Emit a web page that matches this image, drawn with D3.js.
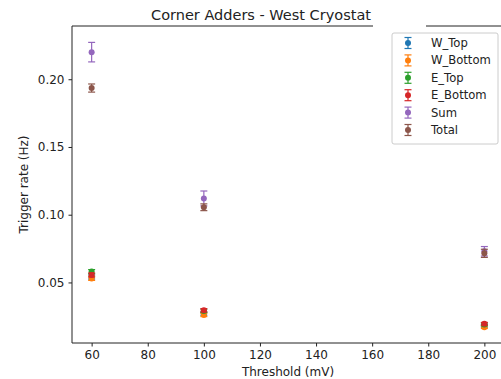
<!DOCTYPE html>
<html>
<head>
<meta charset="utf-8">
<script src="https://cdn.jsdelivr.net/npm/d3@7"></script>
<style>
  body { margin: 0; background: #fff; }
  text { font-family: "DejaVu Sans", sans-serif; fill: #222; }
</style>
</head>
<body>
<div id="chart"></div>
<script>
// thresholds (mV)
var thresholds = [60, 100, 200];

// series names and colours (matplotlib tab10)
var seriesNames = ["W_Top", "W_Bottom", "E_Top", "E_Bottom", "Sum", "Total"];
var seriesColors = ["#1f77b4", "#ff7f0e", "#2ca02c", "#d62728", "#9467bd", "#8c564b"];

// trigger rates (Hz) per series, one value per threshold
var wTop = [0.054, 0.027, 0.018];
var wBottom = [0.053, 0.026, 0.017];
var eTop = [0.058, 0.029, 0.019];
var eBottom = [0.0555, 0.0295, 0.0195];
var sum = [0.220, 0.112, 0.073];
var total = [0.1935, 0.1055, 0.0715];

// error bar half-widths
var wTopErr = [0.0015, 0.0012, 0.001];
var wBottomErr = [0.0015, 0.0012, 0.001];
var eTopErr = [0.0015, 0.0012, 0.001];
var eBottomErr = [0.0015, 0.0012, 0.001];
var sumErr = [0.0072, 0.0055, 0.0035];
var totalErr = [0.003, 0.0025, 0.003];

// tick values
var yTicks = [0.05, 0.10, 0.15, 0.20];
var xTicks = [60, 80, 100, 120, 140, 160, 180, 200];

var allValues = [wTop, wBottom, eTop, eBottom, sum, total];
var allErrs = [wTopErr, wBottomErr, eTopErr, eBottomErr, sumErr, totalErr];

var W = 501, H = 379;
var plotL = 72, plotR = 504, plotT = 26, plotB = 343;

var svg = d3.select("#chart")
    .append("svg")
    .attr("width", W)
    .attr("height", H);

var x = d3.scaleLinear()
    .domain([53, 207])
    .range([plotL, plotR]);

var y = d3.scaleLinear()
    .domain([0.0053, 0.2393])
    .range([plotB, plotT]);

// x axis
svg.append("g")
    .attr("transform", "translate(0," + plotB + ")")
    .call(d3.axisBottom(x).tickValues(xTicks).tickSize(3.5).tickPadding(4))
    .call(function (g) {
        g.select(".domain").remove();
        g.selectAll("line").attr("stroke", "#222");
        g.selectAll("text").style("font-size", "12px").style("fill", "#222");
    });

// y axis
svg.append("g")
    .attr("transform", "translate(" + plotL + ",0)")
    .call(d3.axisLeft(y).tickValues(yTicks).tickFormat(d3.format(".2f")).tickSize(3.5).tickPadding(4))
    .call(function (g) {
        g.select(".domain").remove();
        g.selectAll("line").attr("stroke", "#222");
        g.selectAll("text").style("font-size", "12px").style("fill", "#222");
    });

// spines
svg.append("line").attr("x1", plotL).attr("x2", plotL).attr("y1", plotT).attr("y2", plotB)
    .attr("stroke", "#222").attr("stroke-width", 1);
svg.append("line").attr("x1", plotL).attr("x2", plotR).attr("y1", plotB).attr("y2", plotB)
    .attr("stroke", "#222").attr("stroke-width", 1);
// top spine (has a gap in the reference)
svg.append("line").attr("x1", plotL).attr("x2", 373).attr("y1", plotT).attr("y2", plotT)
    .attr("stroke", "#222").attr("stroke-width", 1);
svg.append("line").attr("x1", 426).attr("x2", plotR).attr("y1", plotT).attr("y2", plotT)
    .attr("stroke", "#222").attr("stroke-width", 1);

// error bars + markers
allValues.forEach(function (vals, i) {
    var pts = thresholds.map(function (t, j) {
        return { t: t, v: vals[j], e: allErrs[i][j] };
    });
    var g = svg.append("g").attr("stroke", seriesColors[i]).attr("fill", seriesColors[i]);
    g.selectAll(".eb")
        .data(pts).enter()
        .append("line")
        .attr("x1", function (d) { return x(d.t); })
        .attr("x2", function (d) { return x(d.t); })
        .attr("y1", function (d) { return y(d.v - d.e); })
        .attr("y2", function (d) { return y(d.v + d.e); })
        .attr("stroke-width", 1.2);
    [-1, 1].forEach(function (s) {
        g.selectAll(".cap" + s)
            .data(pts).enter()
            .append("line")
            .attr("x1", function (d) { return x(d.t) - 3.5; })
            .attr("x2", function (d) { return x(d.t) + 3.5; })
            .attr("y1", function (d) { return y(d.v + s * d.e); })
            .attr("y2", function (d) { return y(d.v + s * d.e); })
            .attr("stroke-width", 1.2);
    });
    g.selectAll("circle")
        .data(pts).enter()
        .append("circle")
        .attr("cx", function (d) { return x(d.t); })
        .attr("cy", function (d) { return y(d.v); })
        .attr("r", 3)
        .attr("stroke", "none");
});

// title
svg.append("text")
    .attr("x", 261)
    .attr("y", 20)
    .attr("text-anchor", "middle")
    .style("font-size", "14.5px")
    .text("Corner Adders - West Cryostat");

// axis labels
svg.append("text")
    .attr("x", 288)
    .attr("y", 375.5)
    .attr("text-anchor", "middle")
    .style("font-size", "12px")
    .text("Threshold (mV)");

svg.append("text")
    .attr("transform", "translate(28," + (plotT + plotB) / 2 + ") rotate(-90)")
    .attr("text-anchor", "middle")
    .style("font-size", "12px")
    .text("Trigger rate (Hz)");

// legend
var leg = svg.append("g");
leg.append("rect")
    .attr("x", 392).attr("y", 33)
    .attr("width", 106).attr("height", 111)
    .attr("rx", 2)
    .attr("fill", "#fff").attr("fill-opacity", 0.8)
    .attr("stroke", "#ccc");
seriesNames.forEach(function (name, i) {
    var cy = 43 + i * 17.4;
    var cx = 408;
    var gg = leg.append("g").attr("stroke", seriesColors[i]).attr("fill", seriesColors[i]);
    gg.append("line").attr("x1", cx).attr("x2", cx).attr("y1", cy - 5.5).attr("y2", cy + 5.5).attr("stroke-width", 1.2);
    gg.append("line").attr("x1", cx - 3.5).attr("x2", cx + 3.5).attr("y1", cy - 5.5).attr("y2", cy - 5.5).attr("stroke-width", 1.2);
    gg.append("line").attr("x1", cx - 3.5).attr("x2", cx + 3.5).attr("y1", cy + 5.5).attr("y2", cy + 5.5).attr("stroke-width", 1.2);
    gg.append("circle").attr("cx", cx).attr("cy", cy).attr("r", 3).attr("stroke", "none");
    leg.append("text")
        .attr("x", 431)
        .attr("y", cy + 4)
        .style("font-size", "11.6px")
        .text(name);
});
</script>
</body>
</html>
